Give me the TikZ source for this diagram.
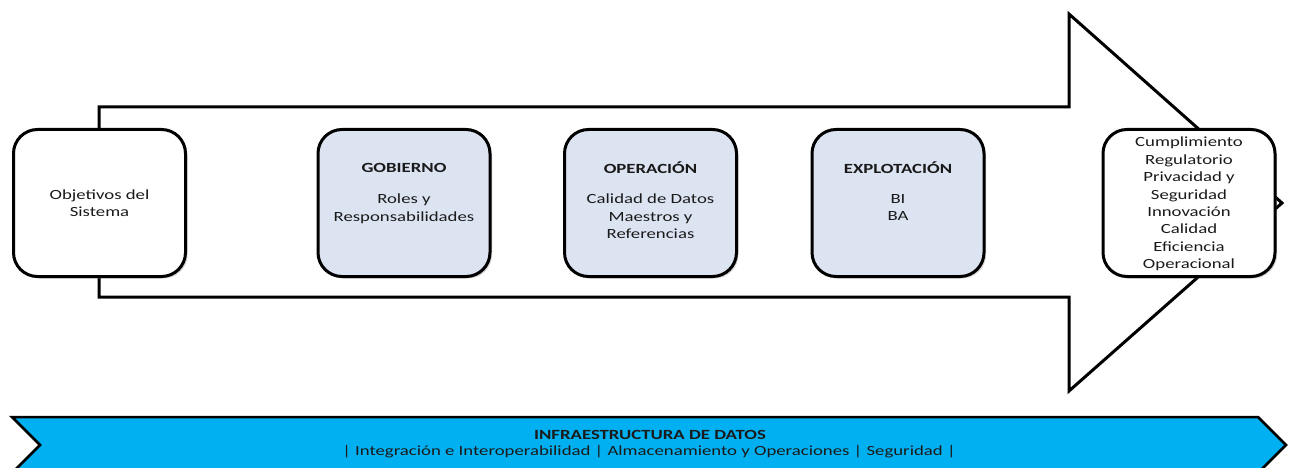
\documentclass[tikz,border=0pt]{standalone}
\usepackage{fontspec}
\setmainfont{Carlito}
\newfontfamily\widefont[FakeStretch=1.34]{Carlito}
\usetikzlibrary{shadows}
\definecolor{boxfill}{HTML}{DCE4F2}
\definecolor{bannerfill}{HTML}{00B0F0}
\definecolor{txt}{HTML}{1A1A1A}
\tikzset{
  bigarrow/.style={draw=black, line width=3pt, fill=white, line join=miter},
  rbox/.style={draw=black, line width=3pt, rounded corners=24pt, minimum width=172pt, minimum height=147pt, inner sep=0pt,
    drop shadow={shadow xshift=2pt, shadow yshift=-2pt, opacity=0.35}},
  whitebox/.style={rbox, fill=white},
  bluebox/.style={rbox, fill=boxfill},
  boxtext/.style={font=\widefont\fontsize{14}{17.4}\selectfont, text=txt, align=center, inner sep=0pt},
  titletext/.style={boxtext, font=\widefont\fontsize{14}{17.4}\selectfont\bfseries},
  banner/.style={draw=black, line width=2.5pt, fill=bannerfill, line join=miter},
}
\begin{document}
\begin{tikzpicture}[x=1pt,y=-1pt]
\useasboundingbox (0,0) rectangle (1291,468);
\begin{scope}
\clip (0,0) rectangle (1291,468);
% big arrow
\draw[bigarrow] (99,107) -- (1069,107) -- (1069,14) -- (1282,203) -- (1069,391) -- (1069,297) -- (99,297) -- cycle;
% banner
\draw[banner] (12,417) -- (1258,417) -- (1286,445) -- (1258,473) -- (12,473) -- (40,445) -- cycle;
\end{scope}
% boxes
\node[whitebox] (obj) at (99.5,203) {};
\node[boxtext] (objt) at (99.5,203) {Objetivos del\\Sistema};
\node[bluebox] (gob) at (404,203) {};
\node[titletext] (gobt) at (404,168) {GOBIERNO};
\node[boxtext, anchor=north] (gobb) at (404,194) {Roles y\\Responsabilidades};
\node[bluebox] (ope) at (650.5,203) {};
\node[titletext] (opet) at (650.5,168) {OPERACIÓN};
\node[boxtext, anchor=north] (opeb) at (650.5,194) {Calidad de Datos\\Maestros y\\Referencias};
\node[bluebox] (exp) at (898,203) {};
\node[titletext] (expt) at (898,168) {EXPLOTACIÓN};
\node[boxtext, anchor=north] (expb) at (898,194) {BI\\BA};
\node[whitebox] (res) at (1189,203) {};
\node[boxtext] (rest) at (1189,204) {Cumplimiento\\Regulatorio\\Privacidad y\\Seguridad\\Innovación\\Calidad\\Eficiencia\\Operacional};
% banner text
\node[font=\widefont\fontsize{14}{17}\selectfont\bfseries, text=txt, inner sep=0pt] (bant) at (650,435) {INFRAESTRUCTURA DE DATOS};
\node[font=\widefont\fontsize{14}{17}\selectfont, text=txt, inner sep=0pt] (banb) at (649,452) {| Integración e Interoperabilidad | Almacenamiento y Operaciones | Seguridad |};
\end{tikzpicture}
\end{document}
